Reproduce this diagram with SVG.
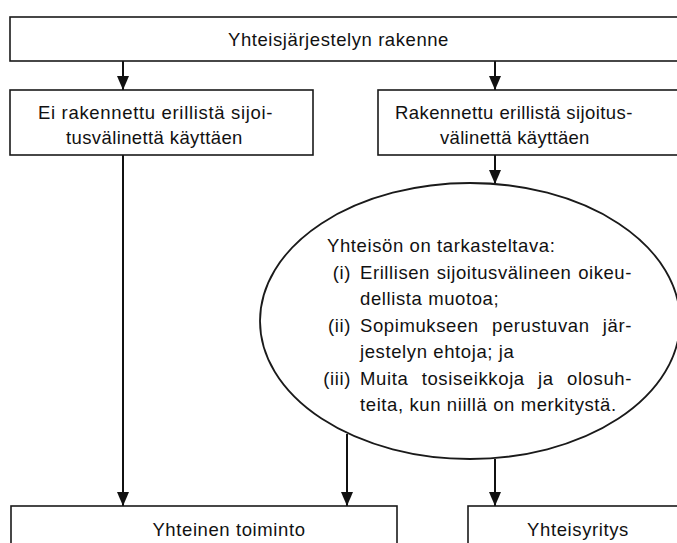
<svg xmlns="http://www.w3.org/2000/svg" width="677" height="543" viewBox="0 0 677 543">
<style>
  .box { fill: #fff; stroke: #1a1a1a; stroke-width: 1.6; }
  .ell { fill: #fff; stroke: #1a1a1a; stroke-width: 1.8; }
  .conn { stroke: #111; stroke-width: 2; fill: none; marker-end: url(#arrow); }
  text { font-family: "Liberation Sans", Arial, sans-serif; font-size: 18.5px; fill: #111; letter-spacing: 0.6px; }
  .c { text-anchor: middle; }
  .e { text-anchor: end; }
</style>
<defs>
  <marker id="arrow" viewBox="0 0 14 12" refX="14" refY="6" markerWidth="14" markerHeight="12" markerUnits="userSpaceOnUse" orient="auto">
    <path d="M0,0 L14,6 L0,12 Z" fill="#111"/>
  </marker>
</defs>
<rect width="677" height="543" fill="#fff"/>

<g id="connectors">
  <line class="conn" x1="123" y1="61" x2="123" y2="90"/>
  <line class="conn" x1="495" y1="61" x2="495" y2="90"/>
  <line class="conn" x1="495" y1="155" x2="495" y2="184"/>
  <line class="conn" x1="123" y1="155" x2="123" y2="506"/>
  <line class="conn" x1="347" y1="434" x2="347" y2="506"/>
  <line class="conn" x1="495" y1="459" x2="495" y2="506"/>
</g>

<g id="node-top">
  <rect class="box" x="10" y="17" width="680" height="44"/>
  <text x="228" y="46" textLength="221" lengthAdjust="spacing">Yhteisjärjestelyn rakenne</text>
</g>

<g id="node-ei-rakennettu">
  <rect class="box" x="10" y="90" width="303" height="65"/>
  <text x="38" y="119" textLength="235" lengthAdjust="spacing">Ei rakennettu erillistä sijoi-</text>
  <text x="66" y="144" textLength="177" lengthAdjust="spacing">tusvälinettä käyttäen</text>
</g>

<g id="node-rakennettu">
  <rect class="box" x="378" y="90" width="310" height="65"/>
  <text x="395" y="119" textLength="238" lengthAdjust="spacing">Rakennettu erillistä sijoitus-</text>
  <text x="440" y="144" textLength="150" lengthAdjust="spacing">välinettä käyttäen</text>
</g>

<g id="node-tarkasteltava">
  <ellipse class="ell" cx="470" cy="321" rx="210" ry="138"/>
  <text x="327" y="252">Yhteisön on tarkasteltava:</text>
  <text class="e" x="351" y="279">(i)</text>
  <text x="360" y="279" word-spacing="1" textLength="272" lengthAdjust="spacing">Erillisen sijoitusvälineen oikeu-</text>
  <text x="360" y="305">dellista muotoa;</text>
  <text class="e" x="351" y="332">(ii)</text>
  <text x="360" y="332" word-spacing="7.5" textLength="272" lengthAdjust="spacing">Sopimukseen perustuvan jär-</text>
  <text x="360" y="358">jestelyn ehtoja; ja</text>
  <text class="e" x="351" y="385">(iii)</text>
  <text x="360" y="385" word-spacing="7.5" textLength="272" lengthAdjust="spacing">Muita tosiseikkoja ja olosuh-</text>
  <text x="360" y="411">teita, kun niillä on merkitystä.</text>
</g>

<g id="node-yhteinen-toiminto">
  <rect class="box" x="11" y="506" width="386" height="60"/>
  <text class="c" x="229" y="536">Yhteinen toiminto</text>
</g>

<g id="node-yhteisyritys">
  <rect class="box" x="468" y="506" width="220" height="60"/>
  <text class="c" x="578" y="536">Yhteisyritys</text>
</g>
</svg>
